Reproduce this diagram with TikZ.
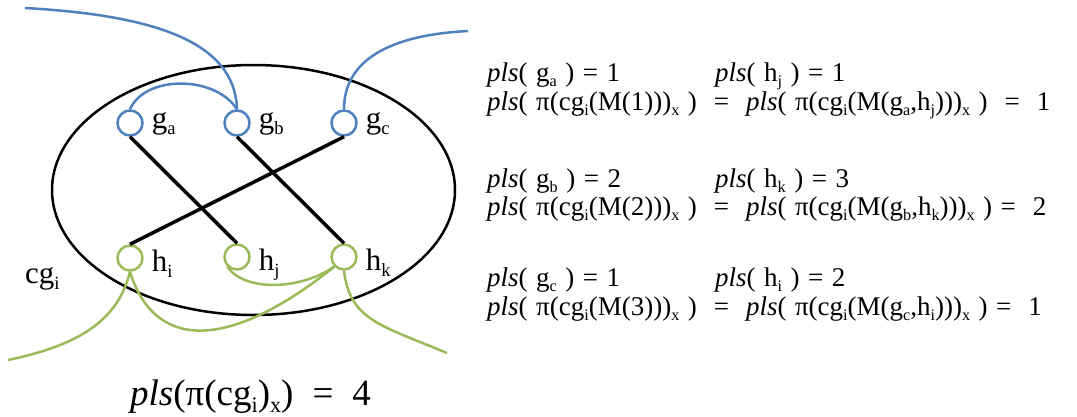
\documentclass[tikz,border=0pt]{standalone}
\usepackage{fontspec}
\setmainfont{Liberation Serif}
\usepackage{graphicx}
\usetikzlibrary{positioning}
\definecolor{gblue}{RGB}{79,129,189}
\definecolor{hgreen}{RGB}{155,187,89}
\newcommand{\sbs}[1]{\raisebox{-0.2em}{\scalebox{0.6}{#1}}}
\newcommand{\pls}{\textit{pls}}

\begin{document}
\begin{tikzpicture}[
    x=1pt, y=-1pt,
    gnode/.style={draw=gblue, circle, line width=2.5pt, minimum size=25pt, inner sep=0pt},
    hnode/.style={gnode, draw=hgreen},
    vlabel/.style={font=\fontsize{31}{34}\selectfont, inner sep=0pt, anchor=base west},
    bond/.style={line width=3.5pt},
    gline/.style={draw=gblue, line width=2.5pt},
    hline/.style={draw=hgreen, line width=2.5pt},
    eqn/.style={font={\fontsize{27}{30}\selectfont\spaceskip=8.5pt\relax}, inner sep=0pt, anchor=base west}
]
    \useasboundingbox (0,0) rectangle (1077,416);

    % cluster cg_i
    \draw[line width=2.5pt] (253.5,190) ellipse [x radius=201.5pt, y radius=125pt];

    % vertices
    \node[gnode] (ga) at (130,123) {};
    \node[gnode] (gb) at (237,123) {};
    \node[gnode] (gc) at (344,123) {};
    \node[hnode] (hi) at (130,258) {};
    \node[hnode] (hj) at (237,257) {};
    \node[hnode] (hk) at (344,257) {};

    \node[vlabel] (la) at ([shift={(8pt,-5pt)}]ga.east) {g\sbs{a}};
    \node[vlabel] (lb) at ([shift={(8pt,-5pt)}]gb.east) {g\sbs{b}};
    \node[vlabel] (lc) at ([shift={(8pt,-5pt)}]gc.east) {g\sbs{c}};
    \node[vlabel] (li) at ([shift={(8pt,-13pt)}]hi.east) {h\sbs{i}};
    \node[vlabel] (lj) at ([shift={(8pt,-13pt)}]hj.east) {h\sbs{j}};
    \node[vlabel] (lk) at ([shift={(8pt,-13pt)}]hk.east) {h\sbs{k}};
    \node[vlabel] (lcg) at (25,283) {cg\sbs{i}};

    % free ends
    \coordinate (bend1) at (25,8);
    \coordinate (bend2) at (468,31);
    \coordinate (hend1) at (8,360);
    \coordinate (hend2) at (447,353);

    % matching
    \draw[bond] (ga.south) -- (hj.north);
    \draw[bond] (gb.south) -- (hk.north);
    \draw[bond] (gc.south) -- (hi.north);

    % blue strands
    \draw[gline] (ga.north) .. controls (145,75) and (215,75) .. (gb.north);
    \draw[gline] (gb.north) .. controls (235,40) and (150,15) .. (bend1);
    \draw[gline] (gc.north) .. controls (344,60) and (390,35) .. (bend2);

    % green strands
    \draw[hline] (hj.south west) .. controls (245,292) and (300,290) .. (hk.south west);
    \draw[hline] (hi.south) .. controls (155,352) and (230,350) .. (hk.south west);
    \draw[hline] (hi.south) .. controls (118,320) and (80,345) .. (hend1);
    \draw[hline] (hk.south) .. controls (350,320) and (380,325) .. (hend2);

    % bottom value
    \node[vlabel, font=\fontsize{37}{40}\selectfont] (total) at (130,405)
        {\pls(π(cg\sbs{i})\sbs{x})\hspace{19pt}=\hspace{19pt}4};

    % pls values
    \node[eqn] (r1a) at (487,81) {\pls( g\sbs{a} ) = 1};
    \node[eqn] (r1b) at (715,81) {\pls( h\sbs{j} ) = 1};
    \node[eqn] (r2) at (487,110) {\pls( π(cg\sbs{i}(M(1)))\sbs{x} ) \ = \ \pls( π(cg\sbs{i}(M(g\sbs{a},h\sbs{j})))\sbs{x} ) \ = \ 1};
    \node[eqn] (r3a) at (487,187) {\pls( g\sbs{b} ) = 2};
    \node[eqn] (r3b) at (715,187) {\pls( h\sbs{k} ) = 3};
    \node[eqn] (r4) at (487,215) {\pls( π(cg\sbs{i}(M(2)))\sbs{x} ) \ = \ \pls( π(cg\sbs{i}(M(g\sbs{b},h\sbs{k})))\sbs{x} ) = \ 2};
    \node[eqn] (r5a) at (487,286) {\pls( g\sbs{c} ) = 1};
    \node[eqn] (r5b) at (715,286) {\pls( h\sbs{i} ) = 2};
    \node[eqn] (r6) at (487,315) {\pls( π(cg\sbs{i}(M(3)))\sbs{x} ) \ = \ \pls( π(cg\sbs{i}(M(g\sbs{c},h\sbs{i})))\sbs{x} ) = \ 1};
\end{tikzpicture}
\end{document}
